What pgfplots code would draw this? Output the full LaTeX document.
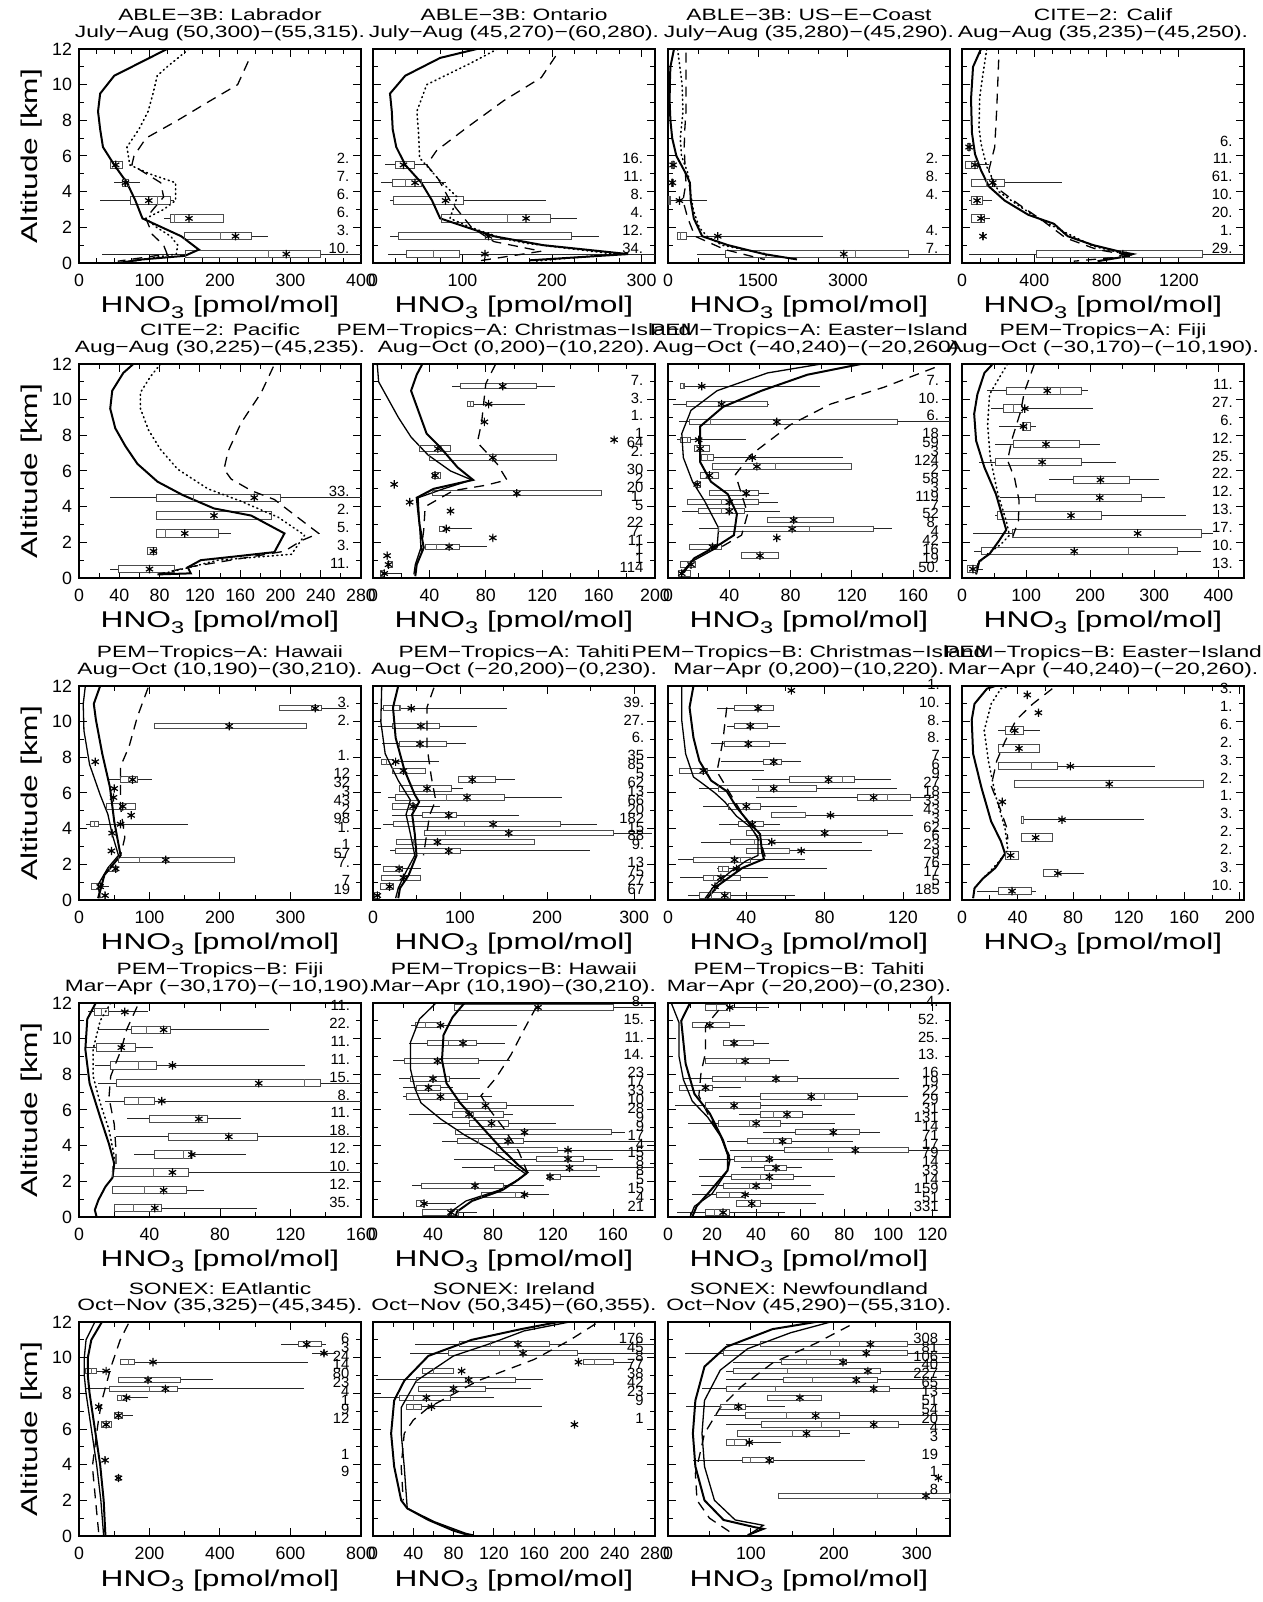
\documentclass[border=0pt]{standalone}
\usepackage{fontspec}
\setmainfont{Liberation Sans}
\newfontfamily\idl[FakeStretch=1.39]{Liberation Sans}
\newfontfamily\idlnum{Liberation Sans}
\usepackage{pgfplots}
\usepackage{pgfplotstable}
\pgfplotsset{compat=1.18}
\newcommand\titfont{\idl\fontsize{8.2}{8.3}\selectfont}
\newcommand\labfont{\idl\fontsize{11.4}{12}\selectfont}
\newcommand\tickfont{\idlnum\fontsize{8.9}{9}\selectfont}
\newcommand\numfont{\idlnum\fontsize{7.4}{7.5}\selectfont}

\pgfplotsset{
 panel/.style={scale only axis, width=141pt, height=107pt, anchor=north west,
   xmin=0, ymin=0, ymax=12, ytick={0,2,...,12}, minor y tick num=1,
   tick align=inside, major tick length=4pt, minor tick length=2.5pt,
   every tick/.style={black, line width=0.5pt}, axis line style={line width=0.8pt},
   yticklabels={},
   xlabel={HNO\raisebox{-0.45ex}{\fontsize{8.5}{8.5}\selectfont 3}\ [pmol/mol]},
   xlabel style={font=\labfont, at={(axis description cs:0.5,0)}, anchor=base, yshift=-25pt},
   title style={font=\titfont, align=center, inner sep=0pt, anchor=south, at={(axis description cs:0.5,1)}, yshift=-2.2pt},
   xticklabel style={font=\tickfont, yshift=-2pt}, yticklabel style={font=\tickfont},
   /pgf/number format/assume math mode=true, /pgf/number format/1000 sep={}},
 leftcol/.style={yticklabels={0,2,4,6,8,10,12}, ylabel={Altitude [km]},
   ylabel style={font=\labfont, at={(axis description cs:0,0.5)}, anchor=base, yshift=21pt}},
 thk/.style={black, line width=1pt},
 thn/.style={black, line width=0.65pt},
 dtd/.style={black, line width=0.8pt, dash pattern=on 0.5pt off 1.8pt, line cap=round},
 dsh/.style={black, line width=0.65pt, dash pattern=on 5pt off 3.5pt},
 hid/.style={only marks, mark=*, mark size=0.1pt, mark options={opacity=0}},
}

% #1 table, #2 box height, #3 inner height, #4 half height, #5 x of numbers
\newcommand\boxes[5]{%
\addplot[hid, error bars/.cd, x dir=both, x explicit, error mark options={opacity=0, mark size=0.1pt},
  error bar style={line width=0.5pt, draw=black!85}]
  table[x=q1, y=alt, x error plus expr=\thisrow{uw}-\thisrow{q1}, x error minus expr=\thisrow{q1}-\thisrow{lw}] {#1};
\addplot[hid, error bars/.cd, x dir=plus, x explicit, error mark options={opacity=0, mark size=0.1pt},
  error bar style={line width=#2, draw=black!70}]
  table[x=q1, y=alt, x error plus expr=\thisrow{q3}-\thisrow{q1}] {#1};
\addplot[hid, error bars/.cd, x dir=plus, x explicit, error mark options={opacity=0, mark size=0.1pt},
  error bar style={line width=#3, draw=white}]
  table[x=q1, y=alt, x error plus expr=\thisrow{q3}-\thisrow{q1}] {#1};
\addplot[only marks, mark=|, mark size=#4, black!70, mark options={line width=0.5pt}] table[x=q1, y=alt] {#1};
\addplot[only marks, mark=|, mark size=#4, black!70, mark options={line width=0.5pt}] table[x=q3, y=alt] {#1};
\addplot[only marks, mark=|, mark size=#4, black!60, mark options={line width=0.45pt}] table[x=med, y=alt] {#1};
\addplot[only marks, mark=asterisk, mark size=2.1pt, black, mark options={line width=0.6pt}] table[x=mean, y=alt] {#1};
\addplot[hid, nodes near coords, point meta=explicit symbolic,
  nodes near coords style={anchor=base east, font=\numfont, inner sep=0pt, black, opacity=1}]
  table[x expr=#5, y expr=\thisrow{alt}+0.06, meta=n] {#1};
}

% ---------------- data ----------------
\pgfplotstableread{
alt lw q1 med q3 uw mean n
5.5 44 45 52 61 61 52 2.
4.5 49 61 64 70 87 66 7.
3.5 30 73 111 130 135 99 6.
2.5 120 130 135 205 206 156 6.
1.5 150 150 200 245 268 222 3.
0.5 32 151 269 342 400 294 10.
}\tLab
\pgfplotstableread{
alt lw q1 med q3 uw mean n
5.5 13 25 34 46 60 34 16.
4.5 9 22 36 54 82 47 11.
3.5 19 23 81 101 193 81 8.
2.5 77 77 150 198 228 171 4.
1.5 19 29 129 222 252 129 12.
0.5 17 37 68 97 315 125 34.
}\tOnt
\pgfplotstableread{
alt lw q1 med q3 uw mean n
5.5 60 60 80 100 100 85 2.
4.5 50 50 70 90 90 72 8.
3.5 0 5 20 40 650 190 4.
1.5 158 158 200 315 2590 830 4.
0.5 486 960 3125 4010 4700 2930 7.
}\tUse
\pgfplotstableread{
alt lw q1 med q3 uw mean n
6.5 30 30 39 48 48 39 6.
5.5 22 22 50 83 148 72 11.
4.5 50 50 133 236 552 170 61.
3.5 39 55 83 116 164 83 10.
2.5 50 50 105 122 155 105 20.
1.5 116 116 116 116 116 116 1.
0.5 39 410 880 1333 1560 890 29.
}\tCal
\pgfplotstableread{
alt lw q1 med q3 uw mean n
4.5 31 77 114 200 280 174 33.
3.5 77 77 134 191 191 134 2.
2.5 77 77 86 139 151 105 5.
1.5 68 68 74 77 77 74 3.
0.5 31 39 70 95 95 70 11.
}\tPac
\pgfplotstableread{
alt lw q1 med q3 uw mean n
10.75 56 62 92 116 129 92 7.
9.75 67 67 69 71 108 82 3.
8.75 79 79 79 79 79 79 1.
7.75 171 171 171 171 171 171 1
7.25 33 33 46 55 55 46 64
6.75 40 40 85 130 130 85 2.
5.75 42 42 44 48 48 44 30
5.25 15 15 15 15 15 15 2
4.75 42 42 102 162 162 102 20
4.25 26 26 26 26 26 26 1.
3.75 55 55 55 55 55 55 5
2.75 47 47 51 51 70 52 22
2.25 85 85 85 85 85 85 7.
1.75 37 37 45 61 81 54 11
1.25 10 10 10 10 10 10 1
0.75 10 10 11 14 14 11 1
0.25 5 5 7 8 20 8 114
}\tChA
\pgfplotstableread{
alt lw q1 med q3 uw mean n
10.75 8 8 10 11 99 22 7.
9.75 3 12 33 65 66 35 10.
8.75 7 14 28 150 184 71 6.
7.75 6 8 13 15 51 20 18
7.25 17 17 21 27 27 21 59
6.75 22 22 26 30 114 55 3
6.25 29 29 70 120 120 58 124
5.75 21 21 27 33 33 27 2
5.25 18 18 19 21 21 19 58
4.75 27 27 50 59 66 51 3
4.25 13 13 35 59 72 40 119
3.75 9 20 35 50 73 40 7
3.25 65 65 82 108 108 82 52
2.75 20 33 92 134 146 81 8.
2.25 71 71 71 71 71 71 4
1.75 14 14 28 35 35 29 42
1.25 48 48 60 72 72 60 16
0.75 8 8 14 18 18 15 19
0.25 7 7 9 15 15 9 50.
}\tEaA
\pgfplotstableread{
alt lw q1 med q3 uw mean n
10.5 39 69 153 187 196 133 11.
9.5 46 64 80 95 204 98 27.
8.5 58 95 100 107 116 96 6.
7.5 52 81 130 183 216 131 12.
6.5 27 53 125 187 240 125 25.
5.5 136 174 216 261 308 216 22.
4.5 60 114 215 280 317 215 12.
3.5 52 56 170 217 349 170 13.
2.5 17 79 274 374 392 274 17.
1.5 19 30 260 337 373 175 10.
0.5 9 9 17 22 32 17 13.
}\tFiA
\pgfplotstableread{
alt lw q1 med q3 uw mean n
10.75 284 284 330 344 379 335 3.
9.75 107 107 213 323 323 213 2.
7.75 23 23 23 23 23 23 1.
6.75 41 59 70 83 104 76 12
6.25 50 50 50 50 50 50 32
5.75 49 49 49 49 49 49 3
5.25 39 39 62 80 80 62 43
4.75 74 74 74 74 74 74 2
4.25 10 17 22 27 154 59 98
3.75 47 47 47 47 47 47 1.
2.75 46 46 46 46 46 46 1
2.25 56 56 86 220 220 123 57
1.75 43 43 50 55 55 52 7.
0.75 18 18 30 30 43 30 7
0.25 37 37 37 37 37 37 19
}\tHaA
\pgfplotstableread{
alt lw q1 med q3 uw mean n
10.75 9 12 31 31 154 44 39.
9.75 6 22 55 76 120 55 27.
8.75 10 30 54 85 107 54 6.
7.75 10 10 15 24 76 26 35
7.25 22 22 35 60 60 35 85
6.75 98 98 114 141 163 114 5
6.25 31 31 62 90 103 62 62
5.75 17 26 84 151 217 108 13
5.25 22 22 46 48 77 46 66
4.75 22 57 87 96 168 87 20
4.25 12 23 105 215 257 138 182
3.75 59 59 83 276 320 156 15
3.25 27 27 46 185 185 74 88
2.75 19 26 87 100 249 87 9.
1.75 12 12 30 34 55 30 13
1.25 10 10 35 55 55 35 75
0.75 9 9 19 24 24 19 27
0.25 2 2 5 7 7 5 67
}\tTaA
\pgfplotstableread{
alt lw q1 med q3 uw mean n
11.75 63 63 63 63 63 63 1.
10.75 25 34 46 54 54 46 10.
9.75 30 34 42 51 57 42 8.
8.75 22 29 41 52 60 41 8.
7.75 27 49 54 58 68 54 7
7.25 6 6 18 20 49 18 6
6.75 43 62 89 95 114 82 9
6.25 16 26 46 76 117 54 27
5.75 45 97 112 124 136 105 18
5.25 18 31 40 47 66 40 33
4.75 53 53 70 70 125 83 43
4.25 26 36 43 49 57 43 3
3.75 40 40 80 112 120 80 62
3.25 17 32 44 52 99 53 6
2.75 40 40 62 62 104 68 23
2.25 5 13 37 42 70 34 9
1.75 25 26 28 31 81 35 76
1.25 6 18 23 37 51 27 17
0.75 24 24 24 24 24 24 5
0.25 10 16 22 32 65 29 185
}\tChB
\pgfplotstableread{
alt lw q1 med q3 uw mean n
11.5 47 47 47 47 47 47 3.
10.5 55 55 55 55 55 55 1.
9.5 26 31 38 44 56 38 6.
8.5 26 26 41 56 56 41 2.
7.5 26 26 50 69 139 78 3.
6.5 38 38 106 174 174 106 2.
5.5 29 29 29 29 29 29 1.
4.5 43 43 44 44 131 72 3.
3.5 43 43 53 65 65 53 2.
2.5 31 31 35 41 41 35 2.
1.5 59 59 69 69 88 69 3.
0.5 11 26 36 50 53 36 10.
}\tEaB
\pgfplotstableread{
alt lw q1 med q3 uw mean n
11.5 5 9 13 17 39 26 11.
10.5 11 30 38 52 108 48 22.
9.5 4 10 24 32 42 24 11.
8.5 9 18 34 44 128 53 11.
7.5 11 21 128 137 160 102 15.
6.5 15 26 34 43 160 47 8.
5.5 27 40 68 73 92 68 11.
4.5 21 51 85 101 160 85 18.
3.5 31 43 59 63 95 64 12.
2.5 19 19 42 62 160 53 10.
1.5 19 19 37 61 71 48 12.
0.5 20 20 31 47 101 43 35.
}\tFiB
\pgfplotstableread{
alt lw q1 med q3 uw mean n
11.75 54 54 110 160 188 110 8.
10.75 25 28 35 45 96 45 15.
9.75 24 36 50 69 88 60 11.
8.75 13 21 43 70 91 43 14.
7.75 17 25 40 51 71 40 23
7.25 20 29 37 45 53 37 17
6.75 20 22 45 63 79 45 33
6.25 54 54 75 89 134 75 10
5.75 24 53 67 87 93 64 28
5.25 40 64 79 90 122 79 9
4.75 55 55 101 159 168 101 9
4.25 46 56 70 100 188 90 17
3.75 82 82 123 123 188 130 4
3.25 54 109 130 140 160 130 15
2.75 59 81 131 149 188 131 8
2.25 116 116 118 125 151 118 8
1.75 26 32 68 87 114 68 5
1.25 72 72 95 100 117 101 15
0.75 29 29 34 34 55 34 4
0.25 33 33 52 57 69 52 21
}\tHaB
\pgfplotstableread{
alt lw q1 med q3 uw mean n
11.75 17 17 22 27 46 28 4.
10.75 11 11 19 28 35 19 52.
9.75 25 25 30 39 46 30 25.
8.75 17 17 31 46 55 35 13.
7.75 7 20 35 59 105 49 16
7.25 5 5 17 20 33 17 19
6.75 23 42 71 86 109 65 22
6.25 3 17 30 42 70 30 29
5.75 32 42 48 61 85 54 31
5.25 9 23 37 51 76 40 131
4.75 43 58 75 87 96 75 14
4.25 27 36 48 56 84 52 71
3.75 28 53 73 109 128 85 17
3.25 14 30 38 47 75 46 79
2.75 33 44 49 54 61 49 14
2.25 14 29 42 57 76 46 33
1.75 15 25 37 47 65 40 14
1.25 11 22 28 35 71 35 159
0.75 31 31 38 42 67 38 51
0.25 4 17 21 28 53 25 331
}\tTaB
\pgfplotstableread{
alt lw q1 med q3 uw mean n
10.75 572 622 646 687 700 646 6
10.25 660 695 695 695 730 695 3
9.75 117 117 140 158 651 210 24
9.25 18 18 35 51 91 77 14
8.75 112 112 196 287 380 196 80
8.25 21 86 200 280 639 245 23
7.75 109 109 120 135 196 135 4
7.25 56 56 56 56 56 56 1
6.75 100 100 112 123 152 112 9
6.25 65 65 77 91 91 77 12
4.25 74 74 74 74 74 74 1
3.25 105 105 112 117 117 112 9
}\tEAt
\pgfplotstableread{
alt lw q1 med q3 uw mean n
10.75 42 86 117 175 280 144 176
10.25 37 75 126 203 280 149 45
9.75 209 209 220 239 258 204 8
9.25 49 49 60 80 80 88 77
8.75 3 43 92 141 169 95 38
8.25 45 45 80 112 157 80 42
7.75 0 26 40 77 120 53 23
7.25 33 33 40 48 168 58 9
6.25 200 200 200 200 200 200 1
}\tIre
\pgfplotstableread{
alt lw q1 med q3 uw mean n
10.75 70 111 207 289 340 244 308
10.25 21 67 196 289 340 239 81
9.75 78 137 167 215 340 211 106
9.25 70 79 144 256 340 241 40
8.75 70 139 174 252 340 227 227
8.25 41 70 130 267 340 248 65
7.75 120 120 159 185 185 159 13
7.25 22 63 80 93 141 85 51
6.75 56 94 143 207 340 178 54
6.25 70 113 185 278 340 248 20
5.75 84 84 150 207 219 167 4
5.25 70 70 80 95 136 98 3
4.25 30 90 100 127 237 122 19
3.25 326 326 326 326 326 326 1
2.25 133 133 252 340 340 311 8
}\tNew

\begin{document}
\begin{tikzpicture}
\useasboundingbox (0,0) rectangle (631.5pt,801pt);

% ===== Row 1 =====
\begin{axis}[panel, leftcol, at={(39.5pt,776.5pt)}, xmax=400, xtick={0,100,...,400}, minor x tick num=3,
  title={ABLE−3B: Labrador\\July−Aug (50,300)−(55,315).}]
\boxes{\tLab}{4.2pt}{3.2pt}{2.1pt}{384}
\addplot[thk] coordinates {(125,12)(100,11.5)(50,10.5)(30,9.5)(27,8.5)(30,7.5)(34,6.5)(50,5.5)(68,4.5)(80,3.5)(90,2.5)(145,1.5)(170,0.75)(150,0.4)(90,0.2)(55,0)};
\addplot[dtd] coordinates {(156,12)(125,11)(111,10.5)(105,9.5)(98,8.5)(85,7.5)(68,6.5)(72,5.5)(100,5)(137,4.5)(137,3.5)(120,3)(95,2.5)(110,2)(130,1.5)(140,1)(138,0.5)(90,0.2)(60,0)};
\addplot[dsh] coordinates {(240,11.3)(225,10)(182,9)(140,8)(95,7)(78,6)(75,5.5)(116,4.5)(120,3.7)(105,3)(95,2.5)(104,1.6)(120,1)(125,0.5)(55,0.1)};
\end{axis}

\begin{axis}[panel, at={(186.5pt,776.5pt)}, xmax=315, xtick={0,100,...,300}, minor x tick num=3,
  title={ABLE−3B: Ontario\\July−Aug (45,270)−(60,280).}]
\boxes{\tOnt}{4.2pt}{3.2pt}{2.1pt}{302}
\addplot[thk] coordinates {(116,12)(75,11.5)(36,10.5)(19,9.5)(21,8.5)(22,7.5)(26,6.5)(36,5.5)(54,4.5)(66,3.5)(75,2.5)(135,1.5)(190,1)(285,0.5)(175,0.15)};
\addplot[dtd] coordinates {(139,12)(109,11.2)(60,10)(49,8.5)(51,7.2)(52,5.9)(75,4.6)(94,3.7)(86,2.5)(109,2)(143,1.4)(172,1.1)(270,0.5)(180,0.1)};
\addplot[dsh] coordinates {(204,11.6)(188,10.4)(146,9.1)(105,7.6)(71,6.3)(60,5.5)(73,4.7)(86,3.5)(110,2)(135,1.2)(188,0.66)(116,0.1)};
\end{axis}

\begin{axis}[panel, at={(334pt,776.5pt)}, xmax=4700, xtick={0,1500,3000}, minor x tick num=2,
  title={ABLE−3B: US−E−Coast\\July−Aug (35,280)−(45,290).}]
\boxes{\tUse}{4.2pt}{3.2pt}{2.1pt}{4510}
\addplot[thk] coordinates {(100,12)(40,11)(30,10)(28,9)(40,8)(70,7)(140,6)(220,5.5)(300,5)(365,4.5)(380,3.5)(430,2.5)(570,1.5)(1000,1)(1600,0.5)(2150,0.2)};
\addplot[dtd] coordinates {(160,12)(235,10)(250,8.5)(205,7)(225,6)(335,5)(370,4)(420,3)(520,2)(650,1.5)(900,1)(1650,0.5)(1600,0.2)};
\addplot[dsh] coordinates {(300,11.8)(300,10)(300,8.5)(280,7.5)(270,6.5)(290,5)(300,4.5)(250,3.5)(330,2.5)(450,1.5)(950,0.75)(1600,0.2)};
\end{axis}

\begin{axis}[panel, at={(481pt,776.5pt)}, xmax=1560, xtick={0,400,800,1200}, minor x tick num=3,
  title={CITE−2: Calif\\Aug−Aug (35,235)−(45,250).}]
\boxes{\tCal}{4.2pt}{3.2pt}{2.1pt}{1498}
\addplot[thk] coordinates {(105,12)(61,11)(50,9.2)(55,7.3)(72,6.1)(105,5.2)(148,4.3)(236,3.5)(367,2.7)(508,2.2)(585,1.5)(727,1)(880,0.62)(945,0.5)(880,0.32)(750,0.1)};
\addplot[dtd] coordinates {(137,12)(116,10.6)(98,9.3)(94,7.6)(105,6.7)(137,5.4)(203,4)(301,3.3)(421,2.5)(574,1.7)(727,0.94)(880,0.56)(945,0.45)};
\addplot[dsh] coordinates {(203,11.4)(192,8.6)(181,6.5)(148,5.2)(181,4.3)(312,3.3)(443,2.4)(574,1.4)(749,0.75)(945,0.4)(618,0.1)};
\end{axis}

% ===== Row 2 =====
\begin{axis}[panel, leftcol, at={(39.5pt,619pt)}, xmax=280, xtick={0,40,...,280}, minor x tick num=1,
  title={CITE−2: Pacific\\Aug−Aug (30,225)−(45,235).}]
\boxes{\tPac}{4.2pt}{3.2pt}{2.1pt}{269}
\addplot[thk] coordinates {(54,12)(44,11.5)(33,10.5)(31,9.5)(36,8.4)(46,7.4)(58,6.4)(78,5.4)(103,4.65)(134,3.9)(171,3.5)(204,2.5)(194,1.45)(154,1.2)(121,1)(108,0.6)(111,0.26)(78,0.2)};
\addplot[dtd] coordinates {(81,12)(71,11.3)(61,10.4)(61,9.5)(69,8.3)(81,7.2)(98,6.1)(128,5)(161,4.3)(198,3.4)(224,2.4)(211,1.33)(138,1)(110,0.6)(80,0.2)};
\addplot[dsh] coordinates {(193,11.85)(181,10.4)(161,8.7)(148,7.1)(144,6.1)(151,5.55)(171,4.9)(194,4.4)(231,2.8)(238,2.5)(221,2.1)(204,1.5)(108,0.6)(78,0.2)};
\end{axis}

\begin{axis}[panel, at={(186.5pt,619pt)}, xmax=200, xtick={0,40,...,200}, minor x tick num=1,
  title={PEM−Tropics−A: Christmas−Island\\Aug−Oct (0,200)−(10,220).}]
\boxes{\tChA}{3.2pt}{2.2pt}{1.6pt}{192}
\addplot[thn] coordinates {(3,12)(4,11)(11,10)(18,9)(27,7.9)(39,6.9)(55,6)(70,5.5)(50,5)(32,4.5)(33,3)(34,1.7)(30,0.75)(29,0.2)};
\addplot[thk] coordinates {(35,12)(31,11.4)(27,10.5)(38,8.1)(48,7.3)(60,6.2)(71,5.5)(43,5)(31,4.5)(33,3)(36,1.7)(31,0.75)(30,0.1)};
\addplot[dsh] coordinates {(87,12)(80,10.9)(77,8.7)(74,7.6)(88,6.4)(95,5.5)(80,5.2)(57,4.9)(37,4)(36,2.7)(34,1.5)};
\end{axis}

\begin{axis}[panel, at={(334pt,619pt)}, xmax=184, xtick={0,40,...,160}, minor x tick num=1,
  title={PEM−Tropics−A: Easter−Island\\Aug−Oct (−40,240)−(−20,260).}]
\boxes{\tEaA}{3.2pt}{2.2pt}{1.6pt}{177}
\addplot[thn] coordinates {(100,12)(65,11.5)(32,10.5)(15,9.4)(9,8.1)(10,6.75)(16,5.4)(24,4.3)(33,2.8)(32,1.7)(15,0.9)(9,0.3)};
\addplot[thk] coordinates {(126,12)(91,11.4)(61,10.5)(36,9.6)(21,8.5)(21,6.5)(28,5.4)(39,4.7)(45,3.6)(43,2.4)(34,1.9)(17,1.1)(10,0.3)};
\addplot[dsh] coordinates {(174,11.8)(141,10.7)(106,9.75)(80,8.6)(54,6.9)(44,5.8)(52,3.6)(48,2.4)(34,1.7)};
\end{axis}

\begin{axis}[panel, at={(481pt,619pt)}, xmax=440, xtick={0,100,...,400}, minor x tick num=1,
  title={PEM−Tropics−A: Fiji\\Aug−Oct (−30,170)−(−10,190).}]
\boxes{\tFiA}{4.2pt}{3.2pt}{2.1pt}{423}
\addplot[thk] coordinates {(48,12)(35,11.5)(24,10.3)(19,9.2)(22,7.7)(35,6.2)(53,4.7)(69,2.7)(58,2.1)(43,1.35)(27,0.94)(22,0.2)};
\addplot[dtd] coordinates {(71,12)(56,11.1)(43,10.3)(40,8.6)(44,6.75)(56,4.7)(69,3.2)(74,2.4)(61,1.9)(40,1.35)(24,0.75)};
\addplot[dsh] coordinates {(113,12)(97,10.4)(92,9.4)(79,7.9)(71,6.6)(82,5.6)(89,4.35)(88,3.2)(77,2.1)};
\end{axis}

% ===== Row 3 =====
\begin{axis}[panel, leftcol, at={(39.5pt,458pt)}, xmax=400, xtick={0,100,...,300}, minor x tick num=1,
  title={PEM−Tropics−A: Hawaii\\Aug−Oct (10,190)−(30,210).}]
\boxes{\tHaA}{3.2pt}{2.2pt}{1.6pt}{385}
\addplot[thn] coordinates {(9,12)(6,11)(7,9.5)(15,7.6)(30,5.9)(41,4.8)(47,3.7)(56,2.5)(41,1.8)(27,0.85)(30,0.1)};
\addplot[thk] coordinates {(30,12)(21,11)(24,10.1)(33,8.2)(44,6.3)(50,4.4)(59,2.5)(36,1.4)(30,0.5)(27,0.1)};
\addplot[dsh] coordinates {(98,11.9)(83,10.3)(71,8.6)(59,7.5)(59,5.2)(65,3.5)(59,2.5)(41,1.6)};
\end{axis}

\begin{axis}[panel, at={(186.5pt,458pt)}, xmax=324, xtick={0,100,...,300}, minor x tick num=1,
  title={PEM−Tropics−A: Tahiti\\Aug−Oct (−20,200)−(0,230).}]
\boxes{\tTaA}{3.2pt}{2.2pt}{1.6pt}{312}
\addplot[thn] coordinates {(10,12)(9,10)(14,8.2)(29,6.7)(43,5.6)(38,4.8)(43,3.7)(48,2.5)(36,1.4)(29,0.66)(26,0.1)};
\addplot[thk] coordinates {(29,12)(23,10.8)(26,9.1)(36,7.3)(48,5.9)(53,5.5)(45,4.8)(48,3.7)(50,2.5)(41,1.4)(31,0.66)(29,0.1)};
\addplot[dsh] coordinates {(70,11.9)(62,10.8)(62,8.6)(67,6.9)(72,5.6)(65,4.75)(58,2.5)};
\end{axis}

\begin{axis}[panel, at={(334pt,458pt)}, xmax=144, xtick={0,40,80,120}, minor x tick num=1,
  title={PEM−Tropics−B: Christmas−Island\\Mar−Apr (0,200)−(10,220).}]
\boxes{\tChB}{3.2pt}{2.2pt}{1.6pt}{139}
\addplot[thn] coordinates {(7,12)(7,10.1)(9,8.2)(13,6.9)(18,6.5)(24,6)(29,5.5)(35,4.7)(42,4.1)(46,3.5)(46,2.5)(40,2.2)(32,1.6)(24,0.85)(19,0.1)};
\addplot[thk] coordinates {(13,12)(11,10.8)(13,9.1)(16,7.8)(22,6.7)(30,6.1)(35,5.2)(41,4.4)(47,3.7)(48,2.7)(49,2.3)(38,1.8)(26,0.85)(20,0.1)};
\addplot[dsh] coordinates {(30,10.8)(28,8.9)(25,7.2)(31,6.1)(37,5)(43,4)(48,3)(50,2.3)};
\end{axis}

\begin{axis}[panel, at={(481pt,458pt)}, xmax=203, xtick={0,40,...,200}, minor x tick num=1,
  title={PEM−Tropics−B: Easter−Island\\Mar−Apr (−40,240)−(−20,260).}]
\boxes{\tEaB}{4.2pt}{3.2pt}{2.1pt}{195}
\addplot[thk] coordinates {(24,12)(18,11.85)(9,11)(7,10.1)(8,8.2)(14,6.3)(21,4.4)(28,3.3)(31,2.6)(24,1.8)(15,1.2)(9,0.66)(8,0.1)};
\addplot[dtd] coordinates {(35,12)(28,11.85)(21,11)(16,9.5)(19,7.8)(24,5.9)(31,4)(33,2.8)(25,2)(15,1.2)};
\addplot[dsh] coordinates {(65,11.85)(51,11)(39,10.1)(31,8.9)(25,7.8)(21,6.4)(28,5)(32,4.1)(33,3.4)};
\end{axis}

% ===== Row 4 =====
\begin{axis}[panel, leftcol, at={(39.5pt,299.5pt)}, xmax=160, xtick={0,40,...,160}, minor x tick num=1,
  title={PEM−Tropics−B: Fiji\\Mar−Apr (−30,170)−(−10,190).}]
\boxes{\tFiB}{4.2pt}{3.2pt}{2.1pt}{154}
\addplot[thk] coordinates {(9.5,12)(4.7,11.1)(3.6,9.4)(6,7.5)(12,5.6)(17,4.1)(20,3)(19,2.2)(15,1.7)(11,0.95)(9,0.4)(10,0)};
\addplot[dtd] coordinates {(18,12)(12,11)(8,9.4)(8,7.9)(12,6.4)(17,4.9)(20,3.4)(19,2.4)};
\addplot[dsh] coordinates {(33,11.8)(27,10.5)(24,9.4)(18,7.9)(17,6.7)(20,5.2)(21,3.7)(21,2.6)};
\end{axis}

\begin{axis}[panel, at={(186.5pt,299.5pt)}, xmax=188, xtick={0,40,...,160}, minor x tick num=1,
  title={PEM−Tropics−B: Hawaii\\Mar−Apr (10,190)−(30,210).}]
\boxes{\tHaB}{3.2pt}{2.2pt}{1.6pt}{181}
\addplot[thn] coordinates {(42,12)(31,11.1)(25,9.8)(25,8.3)(28,7.2)(32,6.4)(45,5.5)(61,4.6)(78,3.8)(92,3)(102,2.4)(95,2)(84,1.5)(62,0.9)(52,0.3)(50,0)};
\addplot[thk] coordinates {(61,12)(53,11.2)(47,10.2)(46,8.8)(49,7.5)(58,6.4)(72,5.1)(86,3.8)(97,2.9)(103,2.5)(97,2.1)(86,1.5)(66,0.9)(56,0.3)(55,0)};
\addplot[dsh] coordinates {(109,11.8)(100,10.4)(92,9.1)(82,7.8)(72,6.8)(77,6.1)(87,5)(97,3.7)(103,2.5)(92,1.8)(80,1.3)};
\end{axis}

\begin{axis}[panel, at={(334pt,299.5pt)}, xmax=128, xtick={0,20,...,120}, minor x tick num=1,
  title={PEM−Tropics−B: Tahiti\\Mar−Apr (−20,200)−(0,230).}]
\boxes{\tTaB}{3.2pt}{2.2pt}{1.6pt}{123}
\addplot[thn] coordinates {(1.5,12)(5,10.9)(5,9)(7,7.7)(11,6.5)(18,5.6)(24,4.5)(27,3.5)(27,2.6)(20,1.3)(12,0.6)(10,0)};
\addplot[thk] coordinates {(10,12)(6,11)(8,8.6)(12,6.9)(19,5.8)(25,4.3)(28,3.2)(27,2.6)(18,1.3)(13,0.6)(11,0)};
\addplot[dsh] coordinates {(23,11.6)(17,10.7)(17,9.2)(15,8.1)(14,6.8)(18,5.8)(24,4.5)(28,3.4)};
\end{axis}

% ===== Row 5 =====
\begin{axis}[panel, leftcol, at={(39.5pt,140pt)}, xmax=800, xtick={0,200,...,800}, minor x tick num=1,
  title={SONEX: EAtlantic\\Oct−Nov (35,325)−(45,345).}]
\boxes{\tEAt}{3.2pt}{2.2pt}{1.6pt}{768}
\addplot[thk] coordinates {(65,12)(35,11)(25,10)(25,9)(30,8)(45,6)(60,4)(70,2)(75,0)};
\addplot[thn] coordinates {(45,12)(20,11)(15,10)(15,9)(20,8)(35,6)(50,4)(62,2)(70,0)};
\addplot[dsh] coordinates {(140,11.9)(117,11)(91,9.5)(65,7.6)(56,6.6)(45,5)(38,3.9)(47,2)(56,0.15)};
\end{axis}

\begin{axis}[panel, at={(186.5pt,140pt)}, xmax=280, xtick={0,40,...,280}, minor x tick num=1,
  title={SONEX: Ireland\\Oct−Nov (50,345)−(60,355).}]
\boxes{\tIre}{3.2pt}{2.2pt}{1.6pt}{269}
\addplot[thk] coordinates {(184,12)(147,11.6)(98,11)(55,10.1)(31,8.7)(21,7.6)(18,5.75)(21,3.9)(28,2)(34,1.55)(55,0.9)(80,0.3)(95,0.05)};
\addplot[thn] coordinates {(195,12)(150,11.5)(117,10.8)(80,10.1)(43,8.7)(28,7.2)(28,5.75)(31,3.9)(34,1.55)(61,0.8)(92,0.15)(100,0.05)};
\addplot[dsh] coordinates {(221,11.9)(196,11)(160,9.9)(104,8.7)(55,7.2)(40,6.5)(31,5.75)(28,3.9)(30,2)};
\end{axis}

\begin{axis}[panel, at={(334pt,140pt)}, xmax=340, xtick={0,100,...,300}, minor x tick num=1,
  title={SONEX: Newfoundland\\Oct−Nov (45,290)−(55,310).}]
\boxes{\tNew}{3.2pt}{2.2pt}{1.6pt}{326}
\addplot[thk] coordinates {(178,12)(126,11.6)(70,10.6)(44,9.5)(33,7.6)(30,5.75)(33,3.9)(44,2)(67,0.9)(104,0.5)(115,0.4)(96,0.05)};
\addplot[thn] coordinates {(196,12)(148,11.4)(96,10.5)(63,9.3)(44,7.6)(41,5.75)(44,3.9)(56,2)(81,0.9)(115,0.6)(100,0.15)};
\addplot[dsh] coordinates {(219,11.8)(178,10.8)(126,9.7)(89,8.4)(63,7.2)(44,5.75)(37,4.3)(33,3.5)(35,2)(50,1)(74,0.25)};
\end{axis}
\end{tikzpicture}
\end{document}
